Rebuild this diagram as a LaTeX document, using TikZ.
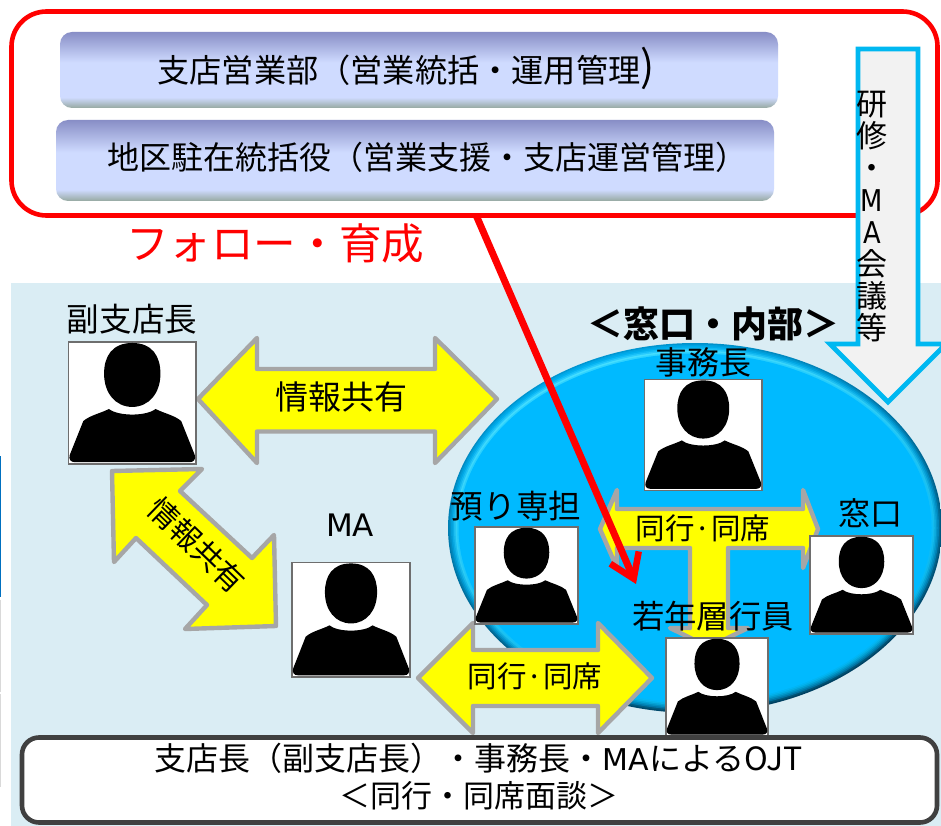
\documentclass[tikz,border=0pt]{standalone}
\usepackage{fontspec}
\setmainfont{Noto Sans CJK JP}
\newfontfamily\latf{DejaVu Sans}
\usetikzlibrary{arrows.meta,shapes.geometric}
\newcommand\fz[1]{\fontsize{#1pt}{#1pt}\selectfont}
\definecolor{bgblue}{HTML}{DAEDF4}
\definecolor{ovalblue}{HTML}{00BAFF}
\definecolor{cyanline}{HTML}{00B8F1}
\definecolor{arrowgray}{HTML}{A6A6A6}
\definecolor{pureyellow}{HTML}{FFFF00}
\definecolor{framegray}{HTML}{404040}
\definecolor{personline}{HTML}{6E6E6E}
\definecolor{bartop}{HTML}{888EC6}
\definecolor{barmid}{HTML}{CFDBFF}
\definecolor{barbot}{HTML}{96A8A0}
\definecolor{edgeblue}{HTML}{0070C0}
\pgfdeclareverticalshading{barshade}{100bp}{color(0bp)=(barbot); color(25bp)=(barbot); color(32bp)=(barmid); color(55bp)=(barmid); color(75bp)=(bartop); color(100bp)=(bartop)}
\tikzset{
  txt/.style={inner sep=0pt,outer sep=0pt,text=black},
  barbox/.style={shade,shading=barshade,rounded corners=12pt,inner sep=0pt,outer sep=0pt,anchor=north west},
  redframe/.style={draw=red,line width=4.6pt,rounded corners=35pt,fill=white,inner sep=0pt,outer sep=0pt,anchor=north west},
  bottomframe/.style={draw=framegray,line width=4.6pt,rounded corners=17pt,fill=white,inner sep=0pt,outer sep=0pt,anchor=north west},
  personbox/.style={draw=personline,line width=1.5pt,fill=white,inner sep=0pt,outer sep=0pt,anchor=north west},
  yarrow/.style={draw=arrowgray,fill=pureyellow,line width=4.4pt,line join=round},
  downarrow/.style={draw=cyanline,fill=black!5,line width=4.8pt,line join=miter},
  followarrow/.style={draw=red,line width=7pt,-{Straight Barb[length=23pt,width=31pt,line width=6.5pt]}}
}
\newcommand\personfig[5]{%
  \pgfmathsetmacro\pw{#4-#2}\pgfmathsetmacro\ph{#5-#3}%
  \node[personbox,minimum width=\pw pt,minimum height=\ph pt] (#1) at (#2,#3) {};
  \begin{scope}[shift={(#2,#3)},x=\pw pt,y=-\ph pt]
    \fill[black] (.5,.008) .. controls (.66,.008) and (.721,.12) .. (.721,.26) .. controls (.721,.42) and (.63,.532) .. (.5,.532) .. controls (.37,.532) and (.279,.42) .. (.279,.26) .. controls (.279,.12) and (.34,.008) .. (.5,.008) -- cycle;
    \fill[black] (.317,.549) .. controls (.39,.61) and (.61,.61) .. (.683,.549)
      .. controls (.75,.585) and (.83,.6) .. (.884,.648) -- (.99,.925)
      .. controls (1,.96) and (.985,.985) .. (.95,.985) -- (.05,.985)
      .. controls (.015,.985) and (0,.96) .. (.01,.925) -- (.116,.648)
      .. controls (.17,.6) and (.25,.585) .. (.317,.549) -- cycle;
  \end{scope}
}
\newcommand\ovalring[3]{%
  \definecolor{ringtop}{HTML}{#2}\definecolor{ringbot}{HTML}{#3}%
  \shade[top color=ringtop,bottom color=ringbot,shading angle=20] (695,528) ellipse [x radius={247-#1},y radius={185-#1}];
}
\newcommand\narrowlat[1]{\scalebox{.86}[1]{\latf\fz{30}#1}}
\begin{document}
\begin{tikzpicture}[x=1pt,y=-1pt]
\useasboundingbox (0,0) rectangle (941,826);
% page-edge slivers
\fill[edgeblue] (0,456) rectangle (1,597);
\fill[black!15] (0,600) rectangle (1,692);
\fill[black!15] (0,694) rectangle (1,787);
% background
\fill[bgblue] (11,283) rectangle (941,826);
% red frame and bars
\node[redframe,minimum width=926pt,minimum height=204pt] (redbox) at (11.5,11.5) {};
\node[barbox,minimum width=718pt,minimum height=76pt] (bar1) at (60,32) {};
\node[barbox,minimum width=718pt,minimum height=81pt] (bar2) at (56,120) {};
\node[txt,font=\fz{32.2},anchor=west] (bar1t) at (157.5,68) {支店営業部（営業統括・運用管理{\fz{42}\raisebox{1pt}{)}}};
\node[txt,font=\fz{32},anchor=west] (bar2t) at (107,157) {地区駐在統括役（営業支援・支店運営管理）};
\node[txt,font=\fz{42.6},text=red,anchor=west] (follow) at (126,243) {フォロー・育成};
% oval with bevelled rim
\ovalring{0}{0098D4}{003F5F}
\ovalring{1.5}{00A8E8}{005070}
\ovalring{3}{00B0F0}{0070A0}
\ovalring{4.5}{10BCF8}{0088B8}
\ovalring{6}{28CCFF}{009CD0}
\ovalring{7.5}{48DFFF}{00ACE4}
\ovalring{9}{30D4FF}{00B4F5}
\fill[ovalblue] (695,528) ellipse [x radius=236.5,y radius=174.5];
\node[txt,font=\bfseries\fz{36}] (inner) at (713,324) {＜窓口・内部＞};
% yellow arrows
\draw[yarrow] (198,399) -- (257,338) -- (257,369) -- (435,369) -- (435,338) -- (497,399) -- (435,463) -- (435,431.5) -- (257,431.5) -- (257,463) -- cycle;
\draw[yarrow] (112,471) -- (202,469) -- (180,491) -- (252,558) -- (274,535) -- (276,626) -- (185,629) -- (207,605) -- (136,538) -- (114,562) -- cycle;
\draw[yarrow] (418,678) -- (473,623) -- (473,650) -- (598,650) -- (598,623) -- (652,678) -- (598,733) -- (598,706) -- (473,706) -- (473,733) -- cycle;
\draw[yarrow] (600,529) -- (617,490) -- (617,509) -- (803,509) -- (803,490) -- (818,529) -- (803,568) -- (803,548) -- (728,548) -- (728,628) -- (748,628) -- (709,647) -- (670,628) -- (690,628) -- (690,548) -- (617,548) -- (617,568) -- cycle;
% people
\personfig{vicemgr}{68.5}{342}{196}{464}
\personfig{ma}{292}{562.5}{410}{677}
\personfig{jimucho}{644.5}{379.5}{762}{490.5}
\personfig{azukari}{475}{527}{578}{624}
\personfig{madoguchi}{810}{536}{913}{634}
\personfig{young}{666}{638}{768}{736}
% labels
\node[txt,font=\fz{32.6}] (l1) at (132,319) {副支店長};
\node[txt,font=\fz{33}] (l2) at (341,397) {情報共有};
\node[txt,font=\fz{30},rotate=-44] (l3) at (197,545) {情報共有};
\node[txt,font=\latf\fz{31}] (l4) at (350,525) {MA};
\node[txt,font=\fz{32}] (l5) at (703,362) {事務長};
\node[txt,font=\fz{32.6}] (l6) at (516,506) {預り専担};
\node[txt,font=\fz{32}] (l7) at (870,513) {窓口};
\node[txt,font=\fz{29.5}] (l8) at (703,528) {同行·同席};
\node[txt,font=\fz{29.5}] (l9) at (535,676) {同行·同席};
\node[txt,font=\fz{32.4}] (l10) at (713,616) {若年層行員};
% bottom frame
\node[bottomframe,minimum width=915pt,minimum height=85pt] (botbox) at (22,737.5) {};
\node[txt,font=\fz{32}] (b1) at (479,758) {支店長（副支店長）・事務長・{\latf\fz{30}MA}によるOJT};
\node[txt,font=\fz{31}] (b2) at (479,796) {＜同行・同席面談＞};
% down arrow
\draw[downarrow] (858,49) -- (918,49) -- (918,344) -- (946,344) -- (888,402) -- (830,344) -- (858,344) -- cycle;
\node[txt,font=\fz{31},align=center,anchor=north] (vert) at (872,91) {研\\[1pt]修\\[1pt]・\\[1pt]\narrowlat{M}\\[1pt]\narrowlat{A}\\[1pt]会\\[1pt]議\\[1pt]等};
% red connector
\coordinate (followstart) at (476,215);
\coordinate (followtip) at (636,584);
\draw[followarrow] (followstart) -- (followtip);
\end{tikzpicture}
\end{document}
